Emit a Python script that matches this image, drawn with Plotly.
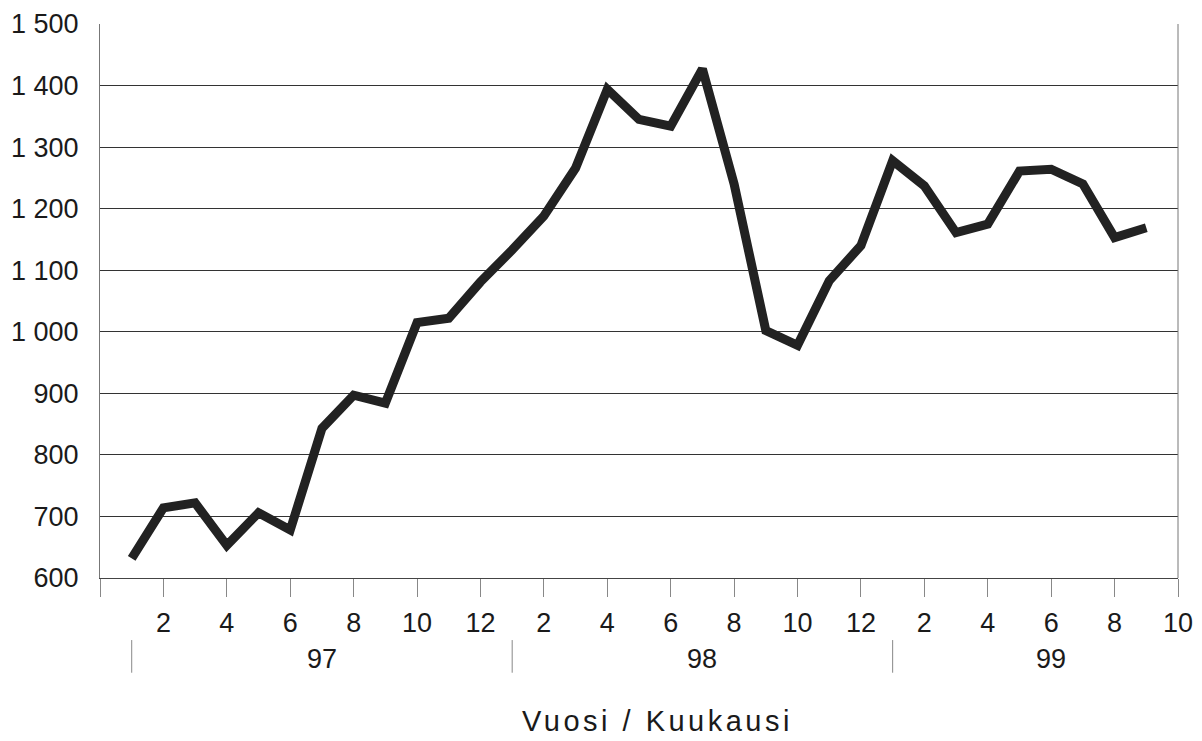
import plotly.graph_objects as go

# Month index 1 = January 1997 ... 33 = September 1999
month_index = list(range(1, 34))
values = [632, 714, 722, 653, 706, 678, 843, 897, 884, 1015,
          1022, 1081, 1133, 1188, 1266, 1394, 1345, 1334, 1427, 1240,
          1002, 978, 1083, 1140, 1278, 1237, 1161, 1175, 1261, 1264,
          1240, 1153, 1169]

x_tick_vals = list(range(0, 35, 2))
x_tick_text = [""] + ["2", "4", "6", "8", "10", "12",
                      "2", "4", "6", "8", "10", "12",
                      "2", "4", "6", "8", "10"]
y_tick_vals = [600, 700, 800, 900, 1000, 1100, 1200, 1300, 1400, 1500]
y_tick_text = ["600", "700", "800", "900", "1 000", "1 100", "1 200",
               "1 300", "1 400", "1 500"]
years = ["97", "98", "99"]
year_starts = [1, 13, 25]
year_centers = [7, 19, 30]
x_title = "Vuosi / Kuukausi"

FONT = "Liberation Sans, Arial, sans-serif"
TXT = "#1a1a1a"

fig = go.Figure()
fig.add_trace(go.Scatter(
    x=month_index, y=values, mode="lines",
    line=dict(color="#222222", width=9),
    showlegend=False, hoverinfo="skip",
))

shapes = []
for s in year_starts:
    shapes.append(dict(type="line", xref="x", yref="paper",
                       x0=s, x1=s, y0=-0.112, y1=-0.171,
                       line=dict(color="#888888", width=1)))
# right border
shapes.append(dict(type="line", xref="paper", yref="paper",
                   x0=1, x1=1, y0=0, y1=1,
                   line=dict(color="#777777", width=1)))

annotations = []
for lab, c in zip(years, year_centers):
    annotations.append(dict(text=lab, x=c, xref="x", y=-0.146, yref="paper",
                            showarrow=False, xanchor="center", yanchor="middle",
                            font=dict(family=FONT, size=27, color=TXT)))
annotations.append(dict(text="<span style='letter-spacing:3.5px'>" + x_title + "</span>",
                        x=0.517, xref="paper", y=-0.259, yref="paper",
                        showarrow=False, xanchor="center", yanchor="middle",
                        font=dict(family=FONT, size=29, color=TXT)))

fig.update_layout(
    width=1194, height=733,
    margin=dict(l=92, r=24, t=16, b=163, autoexpand=False),
    paper_bgcolor="white", plot_bgcolor="white",
    shapes=shapes, annotations=annotations,
    xaxis=dict(range=[0, 34], tickmode="array", tickvals=x_tick_vals,
               ticktext=x_tick_text, ticks="outside", ticklen=18,
               tickcolor="#888888", tickwidth=1, automargin=False,
               showgrid=False, zeroline=False,
               showline=True, linecolor="#444444", linewidth=1,
               ticklabelstandoff=3,
               tickfont=dict(family=FONT, size=27, color=TXT)),
    yaxis=dict(range=[600, 1500], tickmode="array", tickvals=y_tick_vals,
               ticktext=y_tick_text, ticks="", automargin=False,
               showgrid=True, gridcolor="#333333", gridwidth=1,
               zeroline=False, showline=True, linecolor="#777777", linewidth=1,
               ticklabelstandoff=15,
               tickfont=dict(family=FONT, size=27, color=TXT)),
)

fig.write_html("out.html")
